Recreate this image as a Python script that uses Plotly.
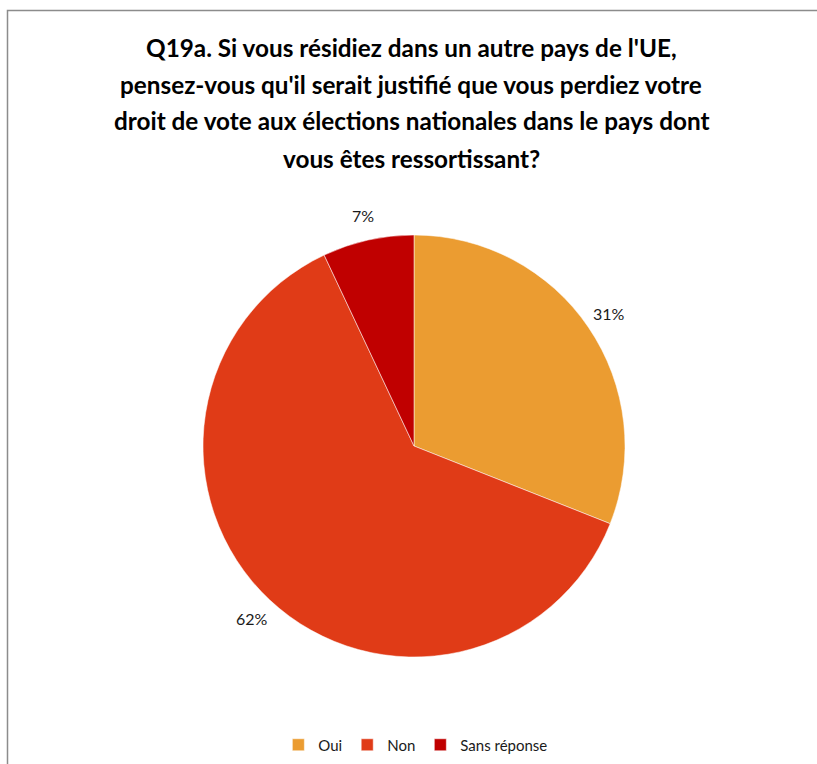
import math
import plotly.graph_objects as go

categories = ["Oui", "Non", "Sans réponse"]
values = [31, 62, 7]
colors = ["#EB9C31", "#E03B17", "#C00000"]
title_lines = [
    "Q19a. Si vous résidiez dans un autre pays de l'UE,",
    "pensez-vous qu'il serait justifié que vous perdiez votre",
    "droit de vote aux élections nationales dans le pays dont",
    "vous êtes ressortissant?",
]

W, H = 817, 764
cx, cy, r = 414, 446, 211

fig = go.Figure(go.Pie(
    labels=categories,
    values=values,
    sort=False,
    direction="clockwise",
    rotation=0,
    marker=dict(colors=colors, line=dict(color="white", width=0.5)),
    textinfo="none",
    domain=dict(x=[(cx - r) / W, (cx + r) / W], y=[1 - (cy + r) / H, 1 - (cy - r) / H]),
    hoverinfo="label+percent",
))

annotations = []
line_y = [47, 84, 121, 158]
for txt, yy in zip(title_lines, line_y):
    annotations.append(dict(
        text="<b>" + txt + "</b>", x=411 / W, y=1 - yy / H, xref="paper", yref="paper",
        xanchor="center", yanchor="middle", showarrow=False,
        font=dict(family="Lato", size=24.3, color="#000000"),
    ))

# outside percentage labels, placed at each slice's mid-angle
total = sum(values)
cum = 0
r_lab = r + 25
for v in values:
    mid = (cum + v / 2) / total * 2 * math.pi
    cum += v
    lx = cx + r_lab * math.sin(mid)
    ly = cy - r_lab * math.cos(mid)
    annotations.append(dict(
        text=f"{round(v / total * 100)}%", x=lx / W, y=1 - ly / H, xref="paper", yref="paper",
        xanchor="center", yanchor="middle", showarrow=False,
        font=dict(family="Lato", size=16, color="#1A1A1A"),
    ))

fig.update_layout(
    width=W, height=H,
    margin=dict(l=0, r=0, t=0, b=0),
    paper_bgcolor="white", plot_bgcolor="white",
    showlegend=True,
    legend=dict(orientation="h", x=0.509, xanchor="center", y=1 - 745 / H, yanchor="middle",
                font=dict(family="Lato", size=15, color="#1A1A1A"),
                itemwidth=30, traceorder="normal"),
    annotations=annotations,
    shapes=[dict(type="rect", xref="paper", yref="paper",
                 x0=7.5 / W, x1=1.02, y0=-0.02, y1=1 - 10.5 / H,
                 line=dict(color="#8C8C8C", width=1.5), fillcolor="rgba(0,0,0,0)", layer="below")],
)

fig.write_html("out.html", config={"displayModeBar": False},
               post_script="document.body.style.margin='0';document.body.style.overflow='hidden';")
